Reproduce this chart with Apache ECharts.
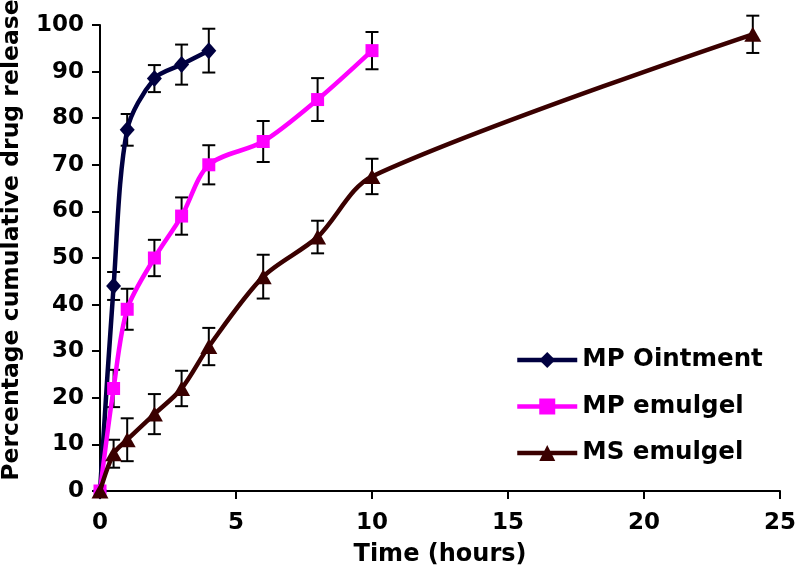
<!DOCTYPE html>
<html>
<head>
<meta charset="utf-8">
<script src="https://cdn.jsdelivr.net/npm/echarts@6/dist/echarts.min.js"></script>
<style>html,body{margin:0;padding:0;background:#fff}#c{width:799px;height:572px}</style>
</head>
<body>
<div id="c"></div>
<script>
var xTicks = [0, 5, 10, 15, 20, 25];
var yTicks = [0, 10, 20, 30, 40, 50, 60, 70, 80, 90, 100];

var timeOintment = [0, 0.5, 1, 2, 3, 4];
var mpOintment = [0, 44, 77.5, 88.5, 91.5, 94.5];
var mpOintmentErr = [0, 3, 3.4, 2.9, 4.3, 4.7];

var timeMpEmulgel = [0, 0.5, 1, 2, 3, 4, 6, 8, 10];
var mpEmulgel = [0, 22, 39, 50, 59, 70, 75, 84, 94.5];
var mpEmulgelErr = [0, 4, 4.4, 3.9, 4, 4.2, 4.4, 4.6, 4];

var timeMsEmulgel = [0, 0.5, 1, 2, 3, 4, 6, 8, 10, 24];
var msEmulgel = [0, 8, 11, 16.5, 22, 31, 46, 54.5, 67.5, 98];
var msEmulgelErr = [0, 3, 4.6, 4.3, 3.8, 4, 4.7, 3.5, 3.8, 4];

var seriesNames = ['MP Ointment', 'MP emulgel', 'MS emulgel'];
var colors = ['#000040', '#ff00ff', '#3a0000'];

function pairs(xs, ys) { return xs.map(function (x, i) { return [x, ys[i]]; }); }
function errData(xs, ys, es) { return xs.map(function (x, i) { return [x, ys[i] - es[i], ys[i] + es[i]]; }); }

var FONT = '"DejaVu Sans", sans-serif';

function errSeries(data) {
  return {
    type: 'custom',
    silent: true,
    z: 1,
    clip: false,
    data: data,
    renderItem: function (params, api) {
      var x = api.value(0), lo = api.value(1), hi = api.value(2);
      if (hi - lo <= 0) return null;
      var pLo = api.coord([x, lo]), pHi = api.coord([x, hi]);
      var w = 6.5;
      var st = { stroke: '#000', lineWidth: 2 };
      return {
        type: 'group',
        children: [
          { type: 'line', shape: { x1: pLo[0], y1: pLo[1], x2: pHi[0], y2: pHi[1] }, style: st },
          { type: 'line', shape: { x1: pLo[0] - w, y1: pLo[1], x2: pLo[0] + w, y2: pLo[1] }, style: st },
          { type: 'line', shape: { x1: pHi[0] - w, y1: pHi[1], x2: pHi[0] + w, y2: pHi[1] }, style: st }
        ]
      };
    }
  };
}

function lineSeries(name, data, color, symbol, size, z) {
  return {
    name: name,
    type: 'line',
    data: data,
    smooth: 0.3,
    clip: false,
    z: z,
    symbol: symbol,
    symbolSize: size,
    showAllSymbol: true,
    lineStyle: { color: color, width: 4.5 },
    itemStyle: { color: color, borderWidth: 0 },
    emphasis: { disabled: true }
  };
}

var chart = echarts.init(document.getElementById('c'), null, { renderer: 'canvas' });
chart.setOption({
  animation: false,
  backgroundColor: '#fff',
  grid: { left: 100, right: 15, top: 25, bottom: 81 },
  xAxis: {
    type: 'value', min: 0, max: 25, interval: 5,
    axisLine: { lineStyle: { color: '#000', width: 2 } },
    axisTick: { show: true, length: 8, lineStyle: { color: '#000', width: 2 } },
    axisLabel: { color: '#000', fontFamily: FONT, fontWeight: 'bold', fontSize: 23, margin: 21,
      formatter: function (v) { return xTicks.indexOf(v) >= 0 ? String(v) : ''; } },
    splitLine: { show: false },
    name: 'Time (hours)', nameLocation: 'middle', nameGap: 52,
    nameTextStyle: { color: '#000', fontFamily: FONT, fontWeight: 'bold', fontSize: 24 }
  },
  yAxis: {
    type: 'value', min: 0, max: 100, interval: 10,
    axisLine: { show: true, lineStyle: { color: '#000', width: 2 } },
    axisTick: { show: true, length: 8, lineStyle: { color: '#000', width: 2 } },
    axisLabel: { color: '#000', fontFamily: FONT, fontWeight: 'bold', fontSize: 23, margin: 16,
      formatter: function (v) { return yTicks.indexOf(v) >= 0 ? String(v) : ''; } },
    splitLine: { show: false }
  },
  legend: {
    orient: 'vertical', left: 510, top: 341,
    itemWidth: 60, itemHeight: 20, itemGap: 18.5,
    data: seriesNames,
    lineStyle: { width: 4.5 },
    textStyle: { color: '#000', fontFamily: FONT, fontWeight: 'bold', fontSize: 24.5, lineHeight: 28 },
    selectedMode: false
  },
  graphic: [{
    type: 'text',
    x: 12, y: 240, rotation: Math.PI / 2,
    style: { text: 'Percentage cumulative drug release', fill: '#000', font: 'bold 23.5px "DejaVu Sans", sans-serif',
      textAlign: 'center', textVerticalAlign: 'middle' }
  }],
  series: [
    errSeries(errData(timeOintment, mpOintment, mpOintmentErr)),
    errSeries(errData(timeMpEmulgel, mpEmulgel, mpEmulgelErr)),
    errSeries(errData(timeMsEmulgel, msEmulgel, msEmulgelErr)),
    lineSeries(seriesNames[0], pairs(timeOintment, mpOintment), colors[0], 'diamond', [15, 17], 3),
    lineSeries(seriesNames[1], pairs(timeMpEmulgel, mpEmulgel), colors[1], 'rect', 13, 4),
    lineSeries(seriesNames[2], pairs(timeMsEmulgel, msEmulgel), colors[2], 'triangle', [17, 15], 5)
  ]
});
</script>
</body>
</html>
